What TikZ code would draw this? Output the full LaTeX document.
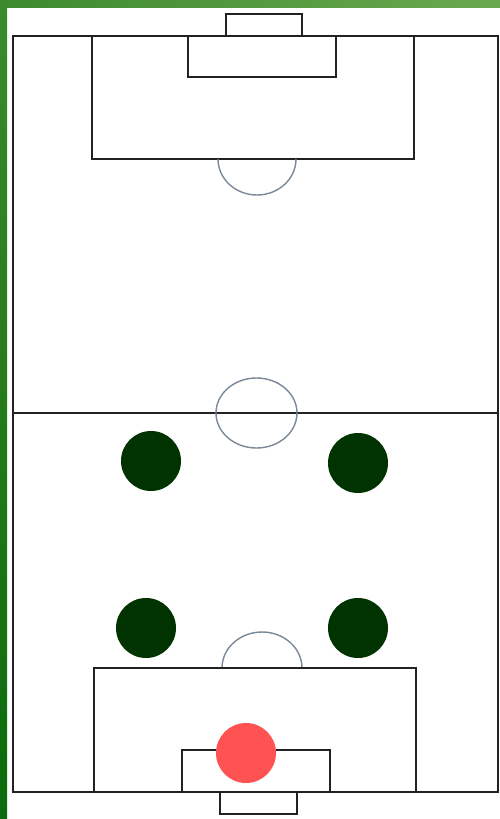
\documentclass[tikz,border=0pt]{standalone}
\definecolor{darkpl}{HTML}{003300}
\definecolor{redpl}{HTML}{FF5252}
\definecolor{arcline}{HTML}{7A8898}
\definecolor{pline}{HTML}{222222}
\definecolor{gdark}{HTML}{0B6A0B}
\definecolor{gmid}{HTML}{3C8A2E}
\definecolor{glight}{HTML}{6AA84F}
\begin{document}
\begin{tikzpicture}[x=1pt,y=-1pt,
  pitchline/.style={draw=pline,line width=1.6pt},
  arcl/.style={draw=arcline,line width=1.4pt},
  player/.style={circle,fill=darkpl,minimum size=60pt,inner sep=0pt},
  keeper/.style={circle,fill=redpl,minimum size=60pt,inner sep=0pt}]
\useasboundingbox (0,0) rectangle (500,819);
\fill[white] (0,0) rectangle (500,819);
% green frame
\shade[left color=gmid,right color=glight] (0,0) rectangle (500,7);
\shade[top color=gmid,bottom color=gdark] (0,0) rectangle (7,819);
% pitch
\draw[pitchline] (13,36) rectangle (498,792);
\draw[pitchline] (13,413) -- (498,413);
% top
\draw[pitchline] (226,36) -- (226,14) -- (302,14) -- (302,36);
\draw[pitchline] (92,36) rectangle (414,159);
\draw[pitchline] (188,36) rectangle (336,77);
\draw[arcl] (218,159) arc[start angle=180,end angle=360,x radius=39,y radius=-36];
% centre
\draw[arcl] (256.5,413) ellipse[x radius=40.5,y radius=35];
% bottom
\draw[arcl] (222,668) arc[start angle=180,end angle=0,x radius=40,y radius=-36];
\draw[pitchline] (94,668) rectangle (416,792);
\draw[pitchline] (182,750) rectangle (330,792);
\draw[pitchline] (220,792) -- (220,814) -- (297,814) -- (297,792);
% players
\node[player] (p1) at (151,461) {};
\node[player] (p2) at (358,463) {};
\node[player] (p3) at (146,628) {};
\node[player] (p4) at (358,628) {};
\node[keeper] (gk) at (246,753) {};
\end{tikzpicture}
\end{document}
